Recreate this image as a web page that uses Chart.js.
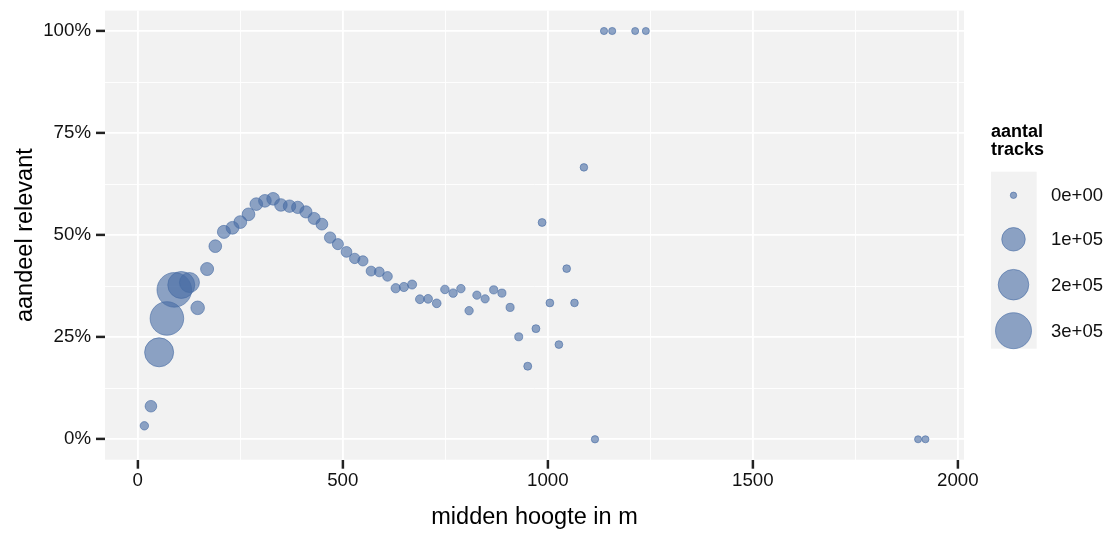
<!DOCTYPE html>
<html><head><meta charset="utf-8">
<script src="https://cdn.jsdelivr.net/npm/chart.js@4/dist/chart.umd.min.js"></script>
<style>html,body{margin:0;padding:0;background:#fff}</style>
</head><body>
<canvas id="c" width="1107" height="533"></canvas>
<script>
// ---- data ----
const heights = [16, 32, 52, 71, 89, 106, 126, 146, 169, 189, 210, 231, 250, 270, 289, 310, 330, 349, 370, 390,
  410, 430, 449, 469, 488, 509, 529, 549, 569, 589, 609, 629, 649, 669, 688, 708, 729, 749, 769, 788,
  808, 827, 847, 868, 888, 908, 929, 951, 971, 986, 1005, 1027, 1046, 1065, 1088, 1115, 1137, 1157, 1213, 1239,
  1903, 1921];
const shares = [0.033, 0.081, 0.213, 0.296, 0.366, 0.378, 0.384, 0.322, 0.417, 0.473, 0.508, 0.518, 0.532, 0.551, 0.576, 0.584, 0.589, 0.574, 0.571, 0.568,
  0.557, 0.541, 0.527, 0.494, 0.478, 0.459, 0.443, 0.437, 0.412, 0.410, 0.399, 0.370, 0.373, 0.379, 0.343, 0.344, 0.333, 0.367, 0.358, 0.369,
  0.315, 0.353, 0.344, 0.366, 0.358, 0.323, 0.251, 0.179, 0.271, 0.531, 0.334, 0.232, 0.418, 0.334, 0.666, 0, 1, 1, 1, 1,
  0, 0];
const tracks = [1400, 9300, 175000, 253000, 272000, 145000, 63000, 17700, 15000, 13500, 15000, 14000, 14000, 13500, 13500, 13500, 13500, 13000, 12500, 12000,
  11500, 11000, 10000, 8500, 7500, 6500, 5500, 5000, 4200, 4000, 3600, 2800, 2600, 2400, 2000, 1900, 1800, 1600, 1500, 1400,
  1300, 1200, 1200, 1100, 1000, 1000, 900, 850, 800, 750, 700, 650, 600, 550, 450, 300, 200, 200, 150, 150,
  150, 150];
const xTicks = [0, 250, 500, 750, 1000, 1250, 1500, 1750, 2000];
const xMajor = [0, 500, 1000, 1500, 2000];
const yTicks = [0, 0.125, 0.25, 0.375, 0.5, 0.625, 0.75, 0.875, 1];
const yMajor = [0, 0.25, 0.5, 0.75, 1];
const legendValues = [0, 100000, 200000, 300000];
const legendLabels = ['0e+00', '1e+05', '2e+05', '3e+05'];
const legendTitle = ['aantal', 'tracks'];

// ---- styling ----
const FONT = '"Liberation Sans", Arial, Helvetica, sans-serif';
const PANEL = '#F2F2F2';
const PT_FILL = 'rgba(70,106,163,0.6)';
function rad(v) { return 3.2 + 14.8 * Math.sqrt(v / 3e5); }

const points = heights.map((h, i) => ({ x: h, y: shares[i], r: rad(tracks[i]) }));

const bgPlugin = {
  id: 'panelBg',
  beforeDraw(chart) {
    const { ctx, chartArea: a } = chart;
    ctx.save();
    ctx.fillStyle = PANEL;
    ctx.fillRect(a.left, a.top, a.right - a.left, a.bottom - a.top);
    ctx.restore();
  }
};

const legendPlugin = {
  id: 'sizeLegend',
  afterDraw(chart) {
    const ctx = chart.ctx;
    ctx.save();
    ctx.fillStyle = '#000';
    ctx.font = 'bold 18px ' + FONT;
    ctx.textAlign = 'left';
    ctx.textBaseline = 'alphabetic';
    ctx.fillText(legendTitle[0], 991, 136.7);
    ctx.fillText(legendTitle[1], 991, 155.3);
    ctx.fillStyle = PANEL;
    ctx.fillRect(991, 171.7, 45.7, 177);
    const ys = [195.3, 239.3, 284.7, 330.7];
    legendValues.forEach((v, i) => {
      ctx.beginPath();
      ctx.arc(1013.5, ys[i], rad(v), 0, Math.PI * 2);
      ctx.fillStyle = PT_FILL;
      ctx.fill();
      ctx.lineWidth = 1;
      ctx.strokeStyle = PT_FILL;
      ctx.stroke();
      ctx.fillStyle = '#111';
      ctx.font = '18.5px ' + FONT;
      ctx.textBaseline = 'middle';
      ctx.fillText(legendLabels[i], 1051, ys[i] + 1);
    });
    ctx.restore();
  }
};

new Chart(document.getElementById('c'), {
  type: 'bubble',
  data: {
    datasets: [{
      data: points,
      backgroundColor: PT_FILL,
      borderColor: PT_FILL,
      borderWidth: 1,
      hoverRadius: 0,
      hoverBorderWidth: 1,
      clip: false
    }]
  },
  options: {
    responsive: false,
    animation: false,
    events: [],
    layout: { autoPadding: false, padding: { left: 0, top: 10.6, right: 143, bottom: 0 } },
    plugins: { legend: { display: false }, tooltip: { enabled: false } },
    scales: {
      x: {
        type: 'linear', min: -80, max: 2015,
        afterBuildTicks: s => { s.ticks = xTicks.map(v => ({ value: v })); },
        afterFit: s => { s.height = 73.3; s.paddingLeft = 0; s.paddingRight = 0; },
        border: { display: false },
        grid: {
          color: '#FFFFFF',
          lineWidth: c => (c.tick && xMajor.includes(c.tick.value)) ? 1.8 : 0.9,
          drawTicks: true, tickLength: 9,
          tickColor: c => (c.tick && xMajor.includes(c.tick.value)) ? '#222222' : 'rgba(0,0,0,0)',
          tickWidth: 2.5
        },
        ticks: {
          autoSkip: false, maxRotation: 0, padding: 1, color: '#111',
          font: { family: FONT, size: 18.7 },
          callback: v => xMajor.includes(v) ? String(v) : ''
        },
        title: { display: true, text: 'midden hoogte in m', color: '#000', font: { family: FONT, size: 23.5 }, padding: { top: 0, bottom: 1 } }
      },
      y: {
        type: 'linear', min: -0.05, max: 1.05,
        afterBuildTicks: s => { s.ticks = yTicks.map(v => ({ value: v })); },
        afterFit: s => { s.width = 105; s.paddingTop = 0; s.paddingBottom = 0; },
        border: { display: false },
        grid: {
          color: '#FFFFFF',
          lineWidth: c => (c.tick && yMajor.includes(c.tick.value)) ? 1.8 : 0.9,
          drawTicks: true, tickLength: 9,
          tickColor: c => (c.tick && yMajor.includes(c.tick.value)) ? '#222222' : 'rgba(0,0,0,0)',
          tickWidth: 2.5
        },
        ticks: {
          autoSkip: false, padding: 5, color: '#111',
          font: { family: FONT, size: 18.7 },
          callback: v => yMajor.includes(v) ? Math.round(v * 100) + '%' : ''
        },
        title: { display: true, text: 'aandeel relevant', color: '#000', font: { family: FONT, size: 23.5 }, padding: { top: 11.2, bottom: 0 } }
      }
    }
  },
  plugins: [bgPlugin, legendPlugin]
});
</script>
</body></html>
